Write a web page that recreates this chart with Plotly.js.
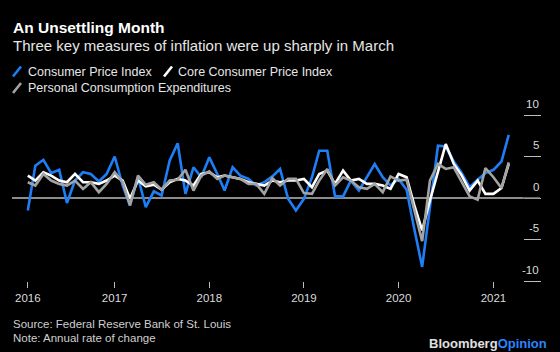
<!DOCTYPE html>
<html>
<head>
<meta charset="utf-8">
<script src="https://cdn.plot.ly/plotly-3.0.1.min.js"></script>
<style>
  html, body { margin: 0; padding: 0; background: #000; }
  #chart { width: 560px; height: 352px; }
</style>
</head>
<body>
<div id="chart"></div>
<script>
// Monthly observations, Feb 2016 - Mar 2021 (annual rate of change, %)
const months = [
  '2016-02-01','2016-03-01','2016-04-01','2016-05-01','2016-06-01','2016-07-01','2016-08-01','2016-09-01','2016-10-01','2016-11-01','2016-12-01',
  '2017-01-01','2017-02-01','2017-03-01','2017-04-01','2017-05-01','2017-06-01','2017-07-01','2017-08-01','2017-09-01','2017-10-01','2017-11-01','2017-12-01',
  '2018-01-01','2018-02-01','2018-03-01','2018-04-01','2018-05-01','2018-06-01','2018-07-01','2018-08-01','2018-09-01','2018-10-01','2018-11-01','2018-12-01',
  '2019-01-01','2019-02-01','2019-03-01','2019-04-01','2019-05-01','2019-06-01','2019-07-01','2019-08-01','2019-09-01','2019-10-01','2019-11-01','2019-12-01',
  '2020-01-01','2020-02-01','2020-03-01','2020-04-01','2020-05-01','2020-06-01','2020-07-01','2020-08-01','2020-09-01','2020-10-01','2020-11-01','2020-12-01',
  '2021-01-01','2021-02-01','2021-03-01'
];

const cpi = [
  -1.5, 3.9, 4.6, 3.0, 3.4, -0.6, 2.1, 3.1, 2.9, 2.0, 2.9,
  5.0, 1.5, -0.9, 2.5, -1.1, 0.8, 0.3, 4.5, 6.6, 0.5, 3.7, 2.5,
  4.9, 2.9, 0.9, 3.7, 2.7, 2.3, 1.5, 1.9, 2.6, 3.5, -0.1, -1.5,
  -0.1, 2.5, 5.7, 5.7, 0.2, 0.2, 2.1, 0.9, 2.5, 4.1, 2.5, 1.5,
  2.3, 1.0, -3.6, -8.3, -1.1, 6.3, 6.2, 4.4, 3.0, 1.3, 2.2, 3.0,
  3.4, 4.4, 7.6
];

const coreCpi = [
  2.7, 2.1, 3.1, 2.7, 2.1, 1.9, 2.9, 1.9, 1.9, 1.7, 2.1,
  2.7, 2.1, -0.1, 2.1, 1.4, 1.6, 1.0, 1.9, 2.3, 2.1, 1.5, 2.9,
  3.1, 2.5, 2.7, 2.5, 2.3, 1.9, 1.7, 1.5, 2.1, 1.9, 2.1, 2.1,
  2.3, 1.3, 2.9, 3.3, 1.7, 3.3, 2.1, 2.3, 1.7, 1.7, 1.5, 1.1,
  2.9, 2.5, -0.8, -3.9, -0.3, 3.0, 6.5, 4.1, 2.7, 0.9, 2.1, 0.5,
  0.5, 1.2, 4.1
];

const pce = [
  1.9, 1.5, 2.9, 2.1, 1.7, 1.5, 2.1, 1.1, 1.9, 0.7, 1.7,
  3.1, 1.9, -0.9, 2.7, 1.6, 1.9, 1.0, 2.1, 2.2, 3.4, 0.9, 2.7,
  3.2, 2.3, 2.7, 2.5, 2.3, 1.7, 1.7, 0.5, 2.4, 1.5, 2.3, 2.3,
  0.6, 0.5, 2.1, 3.5, 1.5, 2.5, 2.1, 1.3, 1.1, 1.7, 0.7, 2.6,
  2.1, 2.2, -1.5, -5.2, 2.1, 4.1, 3.5, 3.7, 1.9, 0.2, -0.2, 3.6,
  2.5, 1.2, 4.3
];

const seriesNames = ['Consumer Price Index', 'Core Consumer Price Index', 'Personal Consumption Expenditures'];
const xTickVals = ['2016-02-01','2017-01-01','2018-01-01','2019-01-01','2020-01-01','2021-01-01'];
const xTickText = ['2016','2017','2018','2019','2020','2021'];
const yTickVals = [-10, -5, 0, 5, 10];
const yTickText = ['-10', '-5', '0', '5', '10'];

const BLUE = '#1e7ef5', WHITE = '#ffffff', GRAY = '#a3a3a3';
const FONT = '"Liberation Sans", Arial, Helvetica, sans-serif';

// plot area in pixels: left 12, right 523, top 115, bottom 281
const L = 12, R = 523, T = 115, B = 281;
const px = x => (x - L) / (R - L);
const py = y => (B - y) / (B - T);

const traces = [
  {x: months, y: cpi, name: seriesNames[0], line: {color: BLUE}},
  {x: months, y: coreCpi, name: seriesNames[1], line: {color: WHITE}},
  {x: months, y: pce, name: seriesNames[2], line: {color: GRAY}}
].map(t => Object.assign(t, {type: 'scatter', mode: 'lines', hoverinfo: 'skip',
  line: Object.assign(t.line, {width: 2.6, shape: 'linear'})}));

function txt(text, x, y, size, color, anchor, extra) {
  return Object.assign({text, x: px(x), y: py(y), xref: 'paper', yref: 'paper',
    xanchor: anchor || 'left', yanchor: 'middle', showarrow: false, borderpad: 0,
    font: {family: FONT, size, color}}, extra || {});
}

const annotations = [
  txt('<b>An Unsettling Month</b>', 12, 27, 15.5, '#ffffff'),
  txt('Three key measures of inflation were up sharply in March', 12, 46, 15, '#e6e6e6'),
  txt(seriesNames[0], 26.5, 71.5, 12.5, '#e6e6e6'),
  txt(seriesNames[1], 177, 71.5, 12.5, '#e6e6e6'),
  txt(seriesNames[2], 26.5, 88, 12.5, '#e6e6e6'),
  txt('Source: Federal Reserve Bank of St. Louis', 12, 324, 11.5, '#cfcfcf'),
  txt('Note: Annual rate of change', 12, 338, 11.5, '#cfcfcf'),
  txt('<b>Bloomberg<span style="color:#2a86ff">Opinion</span></b>', 548, 343, 13, '#e0e0e0', 'right')
];
yTickVals.forEach((v, i) => {
  annotations.push({text: yTickText[i], x: 1, xref: 'paper', xshift: 17, xanchor: 'right',
    y: v, yref: 'y', yshift: 11.5, yanchor: 'middle', showarrow: false, borderpad: 0,
    font: {family: FONT, size: 11.5, color: '#dcdcdc'}});
});

function slash(x, y, color) {
  return {type: 'line', xref: 'paper', yref: 'paper',
    x0: px(x), y0: py(y + 5), x1: px(x + 8), y1: py(y - 5),
    line: {color, width: 2.6}};
}
const shapes = [
  slash(13, 71.5, BLUE),
  slash(164, 71.5, WHITE),
  slash(13, 88, GRAY),
  // zero line continues through the right-hand tick area
  {type: 'line', xref: 'paper', yref: 'y', x0: 1, x1: px(540), y0: 0, y1: 0,
   line: {color: '#8c8c8c', width: 1.5}, layer: 'above'}
];

const layout = {
  width: 560, height: 352,
  paper_bgcolor: '#000000', plot_bgcolor: '#000000',
  margin: {l: L, r: 560 - R, t: T, b: 352 - B, pad: 0},
  showlegend: false,
  font: {family: FONT, color: '#dcdcdc'},
  xaxis: {
    type: 'date', range: ['2015-12-02', '2021-04-25'],
    tickmode: 'array', tickvals: xTickVals, ticktext: xTickText,
    ticks: 'outside', ticklen: 6, tickwidth: 1, tickcolor: '#bdbdbd',
    showgrid: false, zeroline: false, showline: false,
    tickfont: {family: FONT, size: 11.5, color: '#dcdcdc'},
    fixedrange: true
  },
  yaxis: {
    range: [-10, 10], side: 'right',
    tickmode: 'array', tickvals: yTickVals,
    ticks: 'outside', ticklen: 17, tickwidth: 1, tickcolor: '#bdbdbd',
    showticklabels: false, showgrid: false, showline: false,
    zeroline: true, zerolinecolor: '#8c8c8c', zerolinewidth: 1.5,
    fixedrange: true
  },
  annotations, shapes
};

Plotly.newPlot('chart', traces, layout, {displayModeBar: false, staticPlot: true});
</script>
</body>
</html>
